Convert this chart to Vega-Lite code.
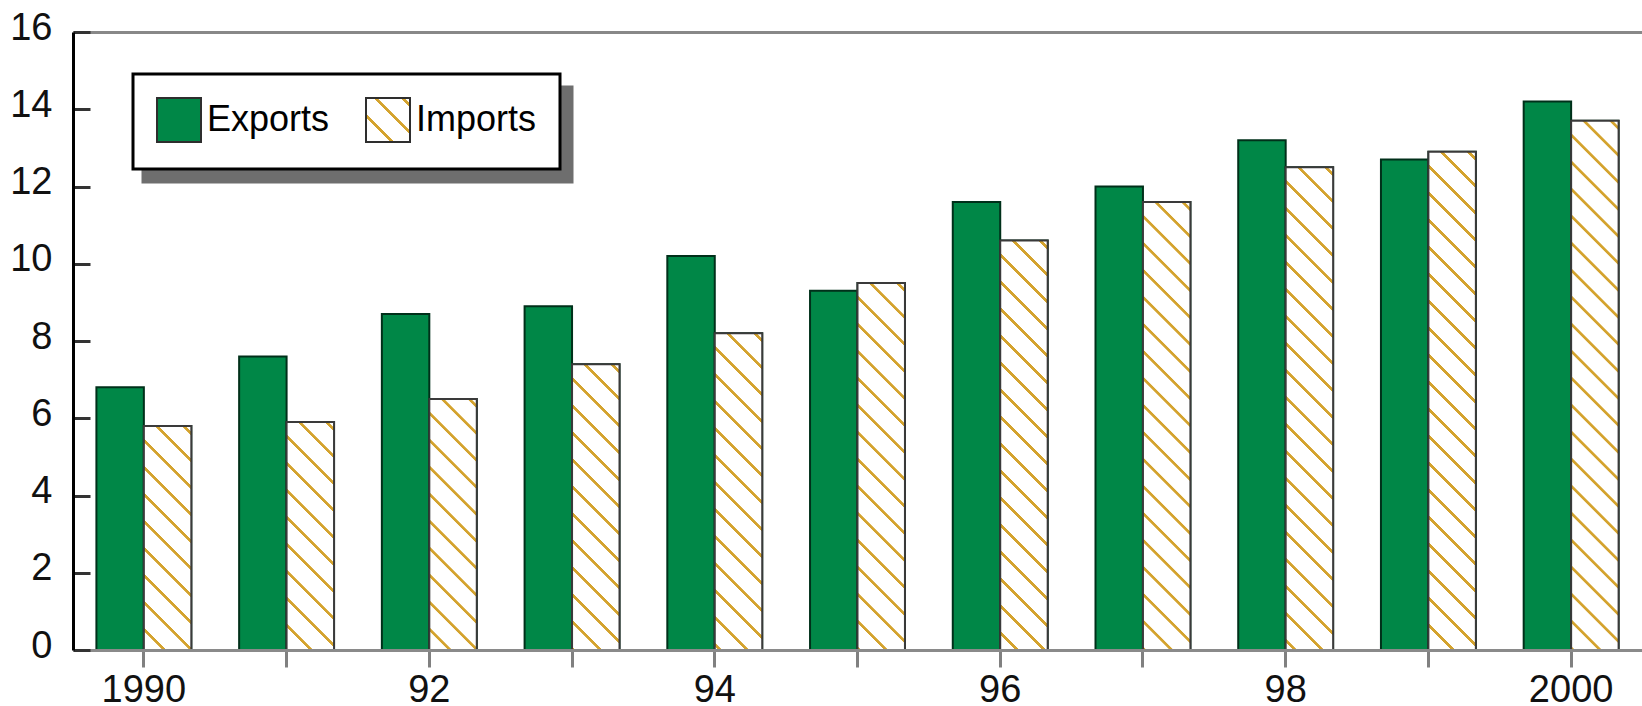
{
  "$schema": "https://vega.github.io/schema/vega-lite/v6.json",
  "usermeta": {"embedOptions": {"actions": false}},
  "width": 1569,
  "height": 618,
  "autosize": {"type": "none"},
  "padding": {"left": 73, "top": 32, "right": 0, "bottom": 56},
  "background": "#ffffff",
  "config": {"font": "Liberation Sans", "view": {"stroke": null}, "legend": {"strokeWidth": 3}},
  "params": [
    {"name": "hatchStops", "value": [
      {"offset": 0, "color": "#ffffff"},
      {"offset": 0.0083, "color": "#ffffff"}, {"offset": 0.0093, "color": "#d4a32e"}, {"offset": 0.0143, "color": "#d4a32e"}, {"offset": 0.0153, "color": "#ffffff"},
      {"offset": 0.0500, "color": "#ffffff"}, {"offset": 0.0510, "color": "#d4a32e"}, {"offset": 0.0560, "color": "#d4a32e"}, {"offset": 0.0570, "color": "#ffffff"},
      {"offset": 0.0916, "color": "#ffffff"}, {"offset": 0.0926, "color": "#d4a32e"}, {"offset": 0.0976, "color": "#d4a32e"}, {"offset": 0.0986, "color": "#ffffff"},
      {"offset": 0.1333, "color": "#ffffff"}, {"offset": 0.1343, "color": "#d4a32e"}, {"offset": 0.1393, "color": "#d4a32e"}, {"offset": 0.1403, "color": "#ffffff"},
      {"offset": 0.1750, "color": "#ffffff"}, {"offset": 0.1760, "color": "#d4a32e"}, {"offset": 0.1810, "color": "#d4a32e"}, {"offset": 0.1820, "color": "#ffffff"},
      {"offset": 0.2166, "color": "#ffffff"}, {"offset": 0.2176, "color": "#d4a32e"}, {"offset": 0.2226, "color": "#d4a32e"}, {"offset": 0.2236, "color": "#ffffff"},
      {"offset": 0.2583, "color": "#ffffff"}, {"offset": 0.2593, "color": "#d4a32e"}, {"offset": 0.2643, "color": "#d4a32e"}, {"offset": 0.2653, "color": "#ffffff"},
      {"offset": 0.3000, "color": "#ffffff"}, {"offset": 0.3010, "color": "#d4a32e"}, {"offset": 0.3060, "color": "#d4a32e"}, {"offset": 0.3070, "color": "#ffffff"},
      {"offset": 0.3416, "color": "#ffffff"}, {"offset": 0.3426, "color": "#d4a32e"}, {"offset": 0.3476, "color": "#d4a32e"}, {"offset": 0.3486, "color": "#ffffff"},
      {"offset": 0.3833, "color": "#ffffff"}, {"offset": 0.3843, "color": "#d4a32e"}, {"offset": 0.3893, "color": "#d4a32e"}, {"offset": 0.3903, "color": "#ffffff"},
      {"offset": 0.4250, "color": "#ffffff"}, {"offset": 0.4260, "color": "#d4a32e"}, {"offset": 0.4310, "color": "#d4a32e"}, {"offset": 0.4320, "color": "#ffffff"},
      {"offset": 0.4666, "color": "#ffffff"}, {"offset": 0.4676, "color": "#d4a32e"}, {"offset": 0.4726, "color": "#d4a32e"}, {"offset": 0.4736, "color": "#ffffff"},
      {"offset": 0.5083, "color": "#ffffff"}, {"offset": 0.5093, "color": "#d4a32e"}, {"offset": 0.5143, "color": "#d4a32e"}, {"offset": 0.5153, "color": "#ffffff"},
      {"offset": 0.5500, "color": "#ffffff"}, {"offset": 0.5510, "color": "#d4a32e"}, {"offset": 0.5560, "color": "#d4a32e"}, {"offset": 0.5570, "color": "#ffffff"},
      {"offset": 0.5916, "color": "#ffffff"}, {"offset": 0.5926, "color": "#d4a32e"}, {"offset": 0.5976, "color": "#d4a32e"}, {"offset": 0.5986, "color": "#ffffff"},
      {"offset": 0.6333, "color": "#ffffff"}, {"offset": 0.6343, "color": "#d4a32e"}, {"offset": 0.6393, "color": "#d4a32e"}, {"offset": 0.6403, "color": "#ffffff"},
      {"offset": 0.6750, "color": "#ffffff"}, {"offset": 0.6760, "color": "#d4a32e"}, {"offset": 0.6810, "color": "#d4a32e"}, {"offset": 0.6820, "color": "#ffffff"},
      {"offset": 0.7166, "color": "#ffffff"}, {"offset": 0.7176, "color": "#d4a32e"}, {"offset": 0.7226, "color": "#d4a32e"}, {"offset": 0.7236, "color": "#ffffff"},
      {"offset": 0.7583, "color": "#ffffff"}, {"offset": 0.7593, "color": "#d4a32e"}, {"offset": 0.7643, "color": "#d4a32e"}, {"offset": 0.7653, "color": "#ffffff"},
      {"offset": 0.8000, "color": "#ffffff"}, {"offset": 0.8010, "color": "#d4a32e"}, {"offset": 0.8060, "color": "#d4a32e"}, {"offset": 0.8070, "color": "#ffffff"},
      {"offset": 0.8416, "color": "#ffffff"}, {"offset": 0.8426, "color": "#d4a32e"}, {"offset": 0.8476, "color": "#d4a32e"}, {"offset": 0.8486, "color": "#ffffff"},
      {"offset": 0.8833, "color": "#ffffff"}, {"offset": 0.8843, "color": "#d4a32e"}, {"offset": 0.8893, "color": "#d4a32e"}, {"offset": 0.8903, "color": "#ffffff"},
      {"offset": 0.9250, "color": "#ffffff"}, {"offset": 0.9260, "color": "#d4a32e"}, {"offset": 0.9310, "color": "#d4a32e"}, {"offset": 0.9320, "color": "#ffffff"},
      {"offset": 0.9666, "color": "#ffffff"}, {"offset": 0.9676, "color": "#d4a32e"}, {"offset": 0.9726, "color": "#d4a32e"}, {"offset": 0.9736, "color": "#ffffff"},
      {"offset": 1, "color": "#ffffff"}
    ]}
  ],
  "data": {"values": [
    {"year": "1990", "series": "Exports", "value": 6.8}, {"year": "1990", "series": "Imports", "value": 5.8},
    {"year": "1991", "series": "Exports", "value": 7.6}, {"year": "1991", "series": "Imports", "value": 5.9},
    {"year": "1992", "series": "Exports", "value": 8.7}, {"year": "1992", "series": "Imports", "value": 6.5},
    {"year": "1993", "series": "Exports", "value": 8.9}, {"year": "1993", "series": "Imports", "value": 7.4},
    {"year": "1994", "series": "Exports", "value": 10.2}, {"year": "1994", "series": "Imports", "value": 8.2},
    {"year": "1995", "series": "Exports", "value": 9.3}, {"year": "1995", "series": "Imports", "value": 9.5},
    {"year": "1996", "series": "Exports", "value": 11.6}, {"year": "1996", "series": "Imports", "value": 10.6},
    {"year": "1997", "series": "Exports", "value": 12.0}, {"year": "1997", "series": "Imports", "value": 11.6},
    {"year": "1998", "series": "Exports", "value": 13.2}, {"year": "1998", "series": "Imports", "value": 12.5},
    {"year": "1999", "series": "Exports", "value": 12.7}, {"year": "1999", "series": "Imports", "value": 12.9},
    {"year": "2000", "series": "Exports", "value": 14.2}, {"year": "2000", "series": "Imports", "value": 13.7}
  ]},
  "encoding": {
    "x": {
      "field": "year", "type": "ordinal", "title": null,
      "scale": {"paddingInner": 0.335, "paddingOuter": 0.164},
      "axis": {
        "zindex": 1,
        "labelExpr": "datum.label == '1990' || datum.label == '2000' ? datum.label : (toNumber(datum.label) % 2 == 0 ? substring(datum.label, 2, 4) : '')",
        "labelAngle": 0, "labelFontSize": 38, "labelFont": "Liberation Sans", "labelColor": "#111111",
        "labelPadding": 4, "labelOverlap": false,
        "tickSize": 17, "tickWidth": 3, "tickColor": "#808080",
        "domainColor": "#8a8a8a", "domainWidth": 3, "grid": false
      }
    },
    "xOffset": {"field": "series", "type": "nominal", "scale": {"domain": ["Exports", "Imports"]}},
    "y": {
      "field": "value", "type": "quantitative", "stack": null, "title": null,
      "scale": {"domain": [0, 16], "nice": false},
      "axis": {
        "zindex": 1,
        "values": [0, 2, 4, 6, 8, 10, 12, 14, 16],
        "tickSize": -17, "tickWidth": 3, "tickColor": "#333333",
        "domainColor": "#000000", "domainWidth": 3,
        "labelFontSize": 38, "labelFont": "Liberation Sans", "labelColor": "#111111",
        "labelPadding": 38, "labelOffset": -4, "labelOverlap": false,
        "grid": true, "gridColor": "#888888", "gridWidth": 3,
        "gridOpacity": {"condition": {"test": "datum.value === 16", "value": 1}, "value": 0}
      }
    }
  },
  "layer": [
    {
      "mark": {"type": "point", "opacity": 0},
      "encoding": {
        "color": {
          "field": "year", "type": "nominal",
          "legend": {
            "title": null, "orient": "none", "legendX": 70, "legendY": 55, "direction": "horizontal",
            "values": ["1990", "1991"],
            "symbolType": "square", "symbolSize": 2304, "symbolStrokeWidth": 2, "symbolOpacity": 0,
            "labelFontSize": 36, "labelFont": "Liberation Sans", "labelExpr": "''", "labelOffset": 5,
            "columnPadding": 273, "padding": 23,
            "fillColor": "#6e6e6e", "strokeColor": "#6e6e6e"
          }
        }
      }
    },
    {
      "mark": {"type": "bar", "stroke": "#00301a", "strokeWidth": 2},
      "encoding": {
        "fill": {"condition": {"test": "datum.series === 'Exports'", "value": "#008747"}, "value": "#ffffff"}
      }
    },
    {
      "transform": [{"filter": "datum.series === 'Imports'"}],
      "mark": {
        "type": "bar", "stroke": "#3a3a3a", "strokeWidth": 2,
        "fill": {"expr": "{gradient: 'linear', x1: 1, y1: 0, x2: 1 - 648 * bandwidth('xOffset') / (bandwidth('xOffset') * bandwidth('xOffset') + (scale('y', 0) - scale('y', datum.value)) * (scale('y', 0) - scale('y', datum.value))), y2: 648 * (scale('y', 0) - scale('y', datum.value)) / (bandwidth('xOffset') * bandwidth('xOffset') + (scale('y', 0) - scale('y', datum.value)) * (scale('y', 0) - scale('y', datum.value))), stops: hatchStops}"}
      }
    },
    {
      "mark": {"type": "point", "opacity": 0, "filled": true},
      "encoding": {
        "fill": {
          "field": "series", "type": "nominal",
          "scale": {"domain": ["Exports", "Imports"], "range": ["#008747", {"expr": "{gradient: 'linear', x1: 1, y1: 0, x2: -6.3636, y2: 7.3636, stops: hatchStops}"}]},
          "legend": {
            "title": null, "orient": "none", "legendX": 60, "legendY": 42, "direction": "horizontal",
            "symbolType": "square", "symbolSize": 1936, "symbolStrokeWidth": 2, "symbolOpacity": 1,
            "symbolStrokeColor": "#2e2e2e",
            "labelFontSize": 36, "labelFont": "Liberation Sans", "labelColor": "#000000", "labelOffset": 5,
            "columnPadding": 32, "padding": 23,
            "fillColor": "#ffffff", "strokeColor": "#000000"
          }
        }
      }
    }
  ]
}
